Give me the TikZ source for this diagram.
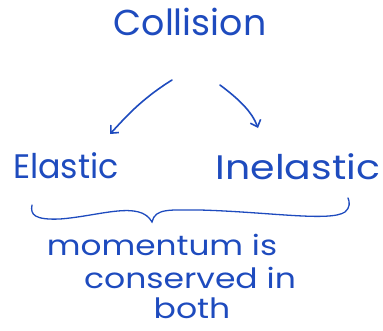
\documentclass[tikz,border=0pt]{standalone}
\usepackage{graphicx}
\usepackage{fontspec}
\setmainfont{Poppins}
\usetikzlibrary{arrows.meta}
\definecolor{ink}{RGB}{30,75,190}
\begin{document}
\begin{tikzpicture}[x=1pt,y=-1pt,
  lbl/.style={text=ink, inner sep=0pt, anchor=center},
  big/.style={font=\fontsize{36}{38}\selectfont},
  mid/.style={font=\fontsize{34}{36}\selectfont},
  small/.style={font=\fontsize{28}{30}\selectfont},
  conn/.style={draw=ink, line width=1.6pt, line cap=round, line join=round, -{Straight Barb[length=6pt,width=11pt]}},
  brace/.style={draw=ink, line width=1.3pt, line cap=round}]
\useasboundingbox (0,0) rectangle (383,330);
\node[lbl, big] (col) at (190,22) {\scalebox{1.01}[1]{Collision}};
\node[lbl, mid] (el) at (66,166) {\scalebox{0.98}[1]{Elastic}};
\node[lbl, mid] (inel) at (298,167) {\scalebox{1.16}[1]{Inelastic}};
\node[lbl, small] (m1) at (162,245) {\scalebox{1.17}[1]{momentum is}};
\node[lbl, small] (m2) at (190,278) {\scalebox{1.18}[1]{conserved in}};
\node[lbl, small] (m3) at (192,308) {\scalebox{1.18}[1]{both}};
\coordinate (ls) at (172,80);
\coordinate (le) at (110,134);
\coordinate (rs) at (220,85);
\coordinate (re) at (258,128);
\draw[conn] (ls) .. controls (140,100) and (125,118) .. (le);
\draw[conn] (rs) .. controls (240,100) and (252,112) .. (re);
\draw[brace] (32,205) .. controls (30,215) and (35,220) .. (60,219)
  .. controls (100,216) and (140,200) .. (152,222)
  .. controls (155,208) and (170,210) .. (200,210)
  .. controls (270,212) and (330,222) .. (345,212)
  .. controls (350,208) and (350,202) .. (348,198);
\end{tikzpicture}
\end{document}
